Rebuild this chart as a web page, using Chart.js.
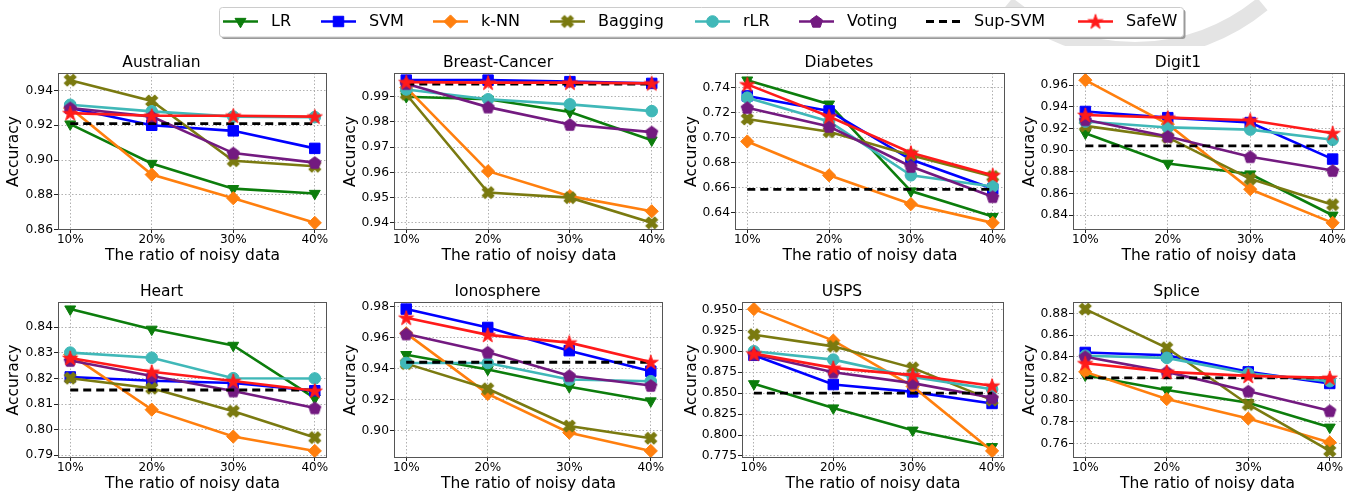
<!DOCTYPE html>
<html><head><meta charset="utf-8">
<script src="https://cdn.jsdelivr.net/npm/chart.js@4.4.1/dist/chart.umd.min.js"></script>
<style>
html,body{margin:0;padding:0;background:#fff;width:1358px;height:496px;overflow:hidden;position:relative}
canvas{position:absolute;display:block}
</style></head><body>
<canvas id="legend" width="1358" height="46" style="left:0;top:0;width:1358px;height:46px"></canvas>
<script>
// ---------------- DATA ----------------
const datasetNames = ['Australian','Breast-Cancer','Diabetes','Digit1','Heart','Ionosphere','USPS','Splice'];
const ratios = ['10%','20%','30%','40%'];
const methods = ['LR','SVM','k-NN','Bagging','rLR','Voting','Sup-SVM','SafeW'];

// each row: one dataset (order of datasetNames), values at 10%,20%,30%,40%
const LR = [
  [0.9207,0.898,0.8835,0.8807],
  [0.990,0.989,0.984,0.9728],
  [0.746,0.7268,0.6574,0.637],
  [0.9157,0.8878,0.878,0.840],
  [0.8471,0.8392,0.8329,0.8123],
  [0.949,0.9394,0.9282,0.919],
  [0.8611,0.8322,0.8057,0.786],
  [0.823,0.8093,0.7976,0.775]
];
const SVM = [
  [0.930,0.920,0.9168,0.9067],
  [0.9966,0.9966,0.996,0.9953],
  [0.7334,0.7214,0.6826,0.6592],
  [0.9357,0.930,0.9255,0.8918],
  [0.8206,0.8191,0.8182,0.8152],
  [0.9785,0.9666,0.9516,0.9383],
  [0.8952,0.8603,0.8515,0.8377],
  [0.844,0.8415,0.8261,0.8154]
];
const kNN = [
  [0.9299,0.8916,0.878,0.8638],
  [0.9936,0.9605,0.9506,0.9446],
  [0.697,0.670,0.647,0.632],
  [0.9646,0.924,0.864,0.833],
  [0.8294,0.8078,0.7973,0.7917],
  [0.9628,0.9236,0.8985,0.8867],
  [0.9504,0.9128,0.858,0.781],
  [0.8261,0.801,0.7831,0.761]
];
const Bagging = [
  [0.946,0.934,0.8996,0.8964],
  [0.991,0.952,0.950,0.940],
  [0.715,0.7048,0.686,0.669],
  [0.9224,0.9118,0.8736,0.8498],
  [0.8201,0.8162,0.8072,0.7969],
  [0.9432,0.9269,0.9028,0.8949],
  [0.9198,0.9059,0.8802,0.8417],
  [0.884,0.8483,0.796,0.7532]
];
const rLR = [
  [0.9318,0.928,0.925,0.9247],
  [0.9929,0.989,0.987,0.9843],
  [0.732,0.713,0.670,0.661],
  [0.9264,0.921,0.919,0.9096],
  [0.8301,0.8281,0.8201,0.820],
  [0.9436,0.9436,0.9329,0.9318],
  [0.900,0.890,0.8694,0.8547],
  [0.841,0.839,0.8246,0.8175]
];
const Voting = [
  [0.930,0.925,0.904,0.8985],
  [0.9952,0.9859,0.979,0.976],
  [0.724,0.709,0.677,0.6529],
  [0.928,0.9127,0.894,0.8812],
  [0.827,0.821,0.8151,0.8085],
  [0.9624,0.9506,0.9354,0.929],
  [0.8964,0.875,0.862,0.8445],
  [0.840,0.8261,0.8083,0.7902]
];
const SupSVM = [0.921,0.995,0.6587,0.904,0.8155,0.9441,0.850,0.8205];
const SafeW = [
  [0.927,0.9255,0.9255,0.925],
  [0.9958,0.9956,0.9956,0.9953],
  [0.7426,0.717,0.688,0.670],
  [0.9325,0.930,0.9276,0.9157],
  [0.828,0.8226,0.819,0.8152],
  [0.9729,0.9618,0.9568,0.9442],
  [0.8972,0.8802,0.8715,0.8589],
  [0.834,0.8261,0.8224,0.8206]
];
const yTickLabels = [
  ['0.86','0.88','0.90','0.92','0.94'],
  ['0.94','0.95','0.96','0.97','0.98','0.99'],
  ['0.64','0.66','0.68','0.70','0.72','0.74'],
  ['0.84','0.86','0.88','0.90','0.92','0.94','0.96'],
  ['0.79','0.80','0.81','0.82','0.83','0.84'],
  ['0.90','0.92','0.94','0.96','0.98'],
  ['0.775','0.800','0.825','0.850','0.875','0.900','0.925','0.950'],
  ['0.76','0.78','0.80','0.82','0.84','0.86','0.88']
];

// ---------------- LAYOUT / STYLE ----------------
// plot rectangles [left, top, right, bottom] in page pixels
const plotRects = [
  [58,73,327,230],[394,73,664,230],[735,73,1005,230],[1073,73,1345,230],
  [58,302,327,458],[394,302,663,458],[742,302,1004,458],[1073,302,1342,458]
];
const yLabelOffset = [44,43,43,43,44,43,50,43];
const colors = ['#0c7d0c','#0000ff','#ff7f0e','#7a7a10','#40b8b8','#731a80','#000000','#ff1a1a'];
const FONT = "'DejaVu Sans', sans-serif";
Chart.defaults.font.family = FONT;
Chart.defaults.color = '#000';

function mk(s){const c=document.createElement('canvas');c.width=s;c.height=s;return c;}
function starImg(color,R){
  const s=Math.ceil(2*R+2),c=mk(s),x=c.getContext('2d'),cx=s/2,cy=s/2+0.6,r=R*0.382;
  x.beginPath();
  for(let i=0;i<10;i++){const a=-Math.PI/2+i*Math.PI/5,rr=i%2?r:R;x.lineTo(cx+rr*Math.cos(a),cy+rr*Math.sin(a));}
  x.closePath();x.fillStyle=color;x.fill();x.lineWidth=1;x.strokeStyle=color;x.stroke();return c;
}
function pentImg(color,R){
  const s=Math.ceil(2*R+2),c=mk(s),x=c.getContext('2d'),cx=s/2,cy=s/2+0.5;
  x.beginPath();
  for(let i=0;i<5;i++){const a=-Math.PI/2+i*2*Math.PI/5;x.lineTo(cx+R*Math.cos(a),cy+R*Math.sin(a));}
  x.closePath();x.fillStyle=color;x.fill();x.lineWidth=1;x.strokeStyle=color;x.stroke();return c;
}
function xImg(color,a){
  const s=Math.ceil(2*a+2),c=mk(s),x=c.getContext('2d');
  const pts=[[-1,-3],[1,-3],[1,-1],[3,-1],[3,1],[1,1],[1,3],[-1,3],[-1,1],[-3,1],[-3,-1],[-1,-1]];
  x.translate(s/2,s/2);x.rotate(Math.PI/4);
  x.beginPath();pts.forEach(p=>x.lineTo(p[0]*a/3*0.95,p[1]*a/3*0.95));x.closePath();
  x.fillStyle=color;x.fill();x.lineWidth=1;x.strokeStyle=color;x.stroke();return c;
}
const markers = [
  {pointStyle:'triangle',rotation:180,radius:6.3},
  {pointStyle:'rect',rotation:0,radius:7.4},
  {pointStyle:'rectRot',rotation:0,radius:6.6},
  {pointStyle:xImg(colors[3],6.6),rotation:0,radius:6},
  {pointStyle:'circle',rotation:0,radius:5.8},
  {pointStyle:pentImg(colors[5],6.4),rotation:0,radius:6},
  null,
  {pointStyle:starImg(colors[7],7.8),rotation:0,radius:7}
];
const seriesByMethod = [LR,SVM,kNN,Bagging,rLR,Voting,null,SafeW];

const framePlugin = {
  id:'frame',
  afterDraw(chart){
    const {ctx,chartArea:a}=chart;
    ctx.save();ctx.strokeStyle='#555';ctx.lineWidth=1;
    ctx.strokeRect(Math.round(a.left)+0.5,Math.round(a.top)+0.5,Math.round(a.right-a.left)-1,Math.round(a.bottom-a.top)-1);
    ctx.restore();
  }
};

function makeChart(k){
  const [pl,pt,pr,pb]=plotRects[k];
  const YW=62,XH=48,TH=32,RP=10;
  const W=pr-pl+YW+RP,H=pb-pt+TH+XH;
  const cv=document.createElement('canvas');
  cv.width=W;cv.height=H;
  cv.style.left=(pl-YW)+'px';cv.style.top=(pt-TH)+'px';
  cv.style.width=W+'px';cv.style.height=H+'px';
  document.body.appendChild(cv);

  const datasets=[];
  let all=[];
  methods.forEach((m,i)=>{
    let vals;
    if(i===6){ vals=ratios.map(()=>SupSVM[k]); }
    else vals=seriesByMethod[i][k];
    all=all.concat(vals);
    const ds={
      label:m,
      data:vals.map((v,j)=>({x:j,y:v})),
      borderColor:colors[i],
      backgroundColor:colors[i],
      borderWidth:i===6?2.8:2.6,
      tension:0,
      order:8-i,
      clip:false
    };
    if(i===6){ ds.borderDash=[8,5]; ds.pointRadius=0; }
    else {
      const mk=markers[i];
      ds.pointStyle=mk.pointStyle; ds.pointRotation=mk.rotation; ds.pointRadius=mk.radius;
      ds.pointBorderWidth=1; ds.pointBorderColor=colors[i]; ds.pointBackgroundColor=colors[i];
    }
    datasets.push(ds);
  });
  const lo=Math.min(...all),hi=Math.max(...all),pad=0.05*(hi-lo);
  const yt=yTickLabels[k];
  const lh=15.5*1.2;
  new Chart(cv,{
    type:'line',
    data:{datasets},
    options:{
      responsive:false,animation:false,devicePixelRatio:1,
      layout:{padding:{left:0,right:RP,top:0,bottom:0}},
      plugins:{
        legend:{display:false},tooltip:{enabled:false},
        title:{display:true,text:datasetNames[k],color:'#000',font:{size:15.5,weight:'normal'},padding:{top:12.7,bottom:0.7}}
      },
      scales:{
        x:{
          type:'linear',min:-0.15,max:3.15,
          afterBuildTicks:s=>{s.ticks=ratios.map((_,j)=>({value:j}));},
          afterFit:s=>{s.height=XH;},
          ticks:{callback:(v)=>ratios[Math.round(v)],color:'#000',font:{size:12},padding:0,maxRotation:0,autoSkip:false},
          grid:{color:'#a8a8a8',lineWidth:0.9,tickLength:3,tickColor:'#222',tickWidth:1,tickBorderDash:[]},
          border:{display:false,dash:[1.5,2]},
          title:{display:true,text:'The ratio of noisy data',color:'#000',font:{size:15.5},padding:{top:0,bottom:XH-26-lh/2}}
        },
        y:{
          type:'linear',min:lo-pad,max:hi+pad,
          afterBuildTicks:s=>{s.ticks=yt.map(t=>({value:parseFloat(t)}));},
          afterFit:s=>{s.width=YW;},
          ticks:{callback:(v,i)=>yt[i],color:'#000',font:{size:12.3},padding:1,autoSkip:false},
          grid:{color:'#a8a8a8',lineWidth:0.9,tickLength:4,tickColor:'#222',tickWidth:1,tickBorderDash:[]},
          border:{display:false,dash:[1.5,2]},
          title:{display:true,text:'Accuracy',color:'#000',font:{size:15.5},padding:{top:YW-yLabelOffset[k]-lh/2,bottom:0}}
        }
      }
    },
    plugins:[framePlugin]
  });
}
for(let k=0;k<datasetNames.length;k++) makeChart(k);

// ---------------- LEGEND ----------------
(function(){
  const c=document.getElementById('legend'),ctx=c.getContext('2d');
  // faint gray watermark arc
  ctx.save();ctx.strokeStyle='#e4e4e4';ctx.lineWidth=16;
  ctx.beginPath();ctx.arc(1135,-150,200,Math.PI*0.28,Math.PI*0.72);ctx.stroke();ctx.restore();
  const bx=219.5,by=7.5,bw=964,bh=29.5,r=3;
  function rr(x,y,w,h){ctx.beginPath();ctx.moveTo(x+r,y);ctx.lineTo(x+w-r,y);ctx.quadraticCurveTo(x+w,y,x+w,y+r);ctx.lineTo(x+w,y+h-r);ctx.quadraticCurveTo(x+w,y+h,x+w-r,y+h);ctx.lineTo(x+r,y+h);ctx.quadraticCurveTo(x,y+h,x,y+h-r);ctx.lineTo(x,y+r);ctx.quadraticCurveTo(x,y,x+r,y);ctx.closePath();}
  ctx.fillStyle='#9a9a9a';rr(bx+2,by+2,bw,bh);ctx.fill();
  ctx.fillStyle='#fff';rr(bx,by,bw,bh);ctx.fill();
  ctx.strokeStyle='#cccccc';ctx.lineWidth=1;rr(bx,by,bw,bh);ctx.stroke();
  const lx=[223,321,433,550,695,799,926,1078];
  const cy=21.5,LL=35;
  ctx.font="16px "+FONT;ctx.textBaseline='middle';ctx.fillStyle='#000';
  methods.forEach((m,i)=>{
    const x0=lx[i];
    ctx.save();ctx.strokeStyle=colors[i];ctx.lineWidth=i===6?2.8:2.6;
    if(i===6) ctx.setLineDash([8,5]);
    ctx.beginPath();ctx.moveTo(x0,cy);ctx.lineTo(x0+LL,cy);ctx.stroke();ctx.restore();
    if(i!==6){
      const mk=markers[i];
      ctx.save();ctx.fillStyle=colors[i];ctx.strokeStyle=colors[i];ctx.lineWidth=1;
      Chart.helpers.drawPoint(ctx,{pointStyle:mk.pointStyle,rotation:mk.rotation,radius:mk.radius,borderWidth:1},x0+LL/2,cy);
      ctx.restore();
    }
    ctx.fillStyle='#000';ctx.fillText(m,x0+LL+13,cy);
  });
})();
</script>
</body></html>
